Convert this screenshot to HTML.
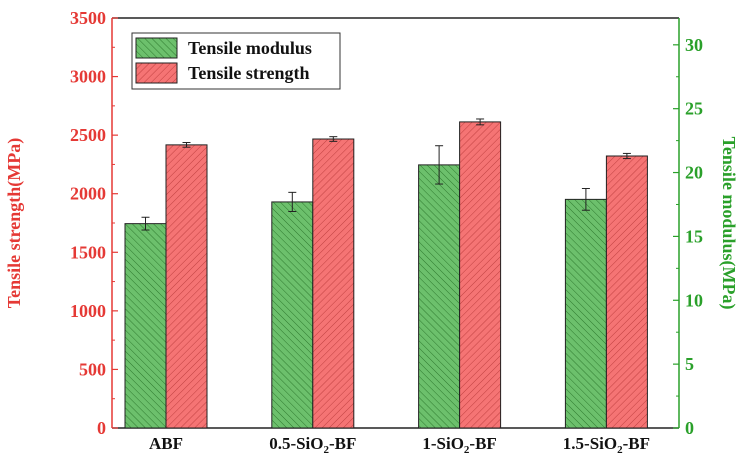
<!DOCTYPE html>
<html><head><meta charset="utf-8"><style>
body{margin:0;background:#fff}
svg{display:block;font-family:"Liberation Serif",serif;font-weight:bold}
</style></head><body>
<svg id="c" width="743" height="462">
<defs>
<pattern id="hg" width="5" height="5" patternUnits="userSpaceOnUse" patternTransform="rotate(-45)"><rect width="5" height="5" fill="#6cc06c"/><line x1="0" y1="0" x2="0" y2="5" stroke="#2f7a2f" stroke-width="1"/></pattern>
<pattern id="hr" width="5" height="5" patternUnits="userSpaceOnUse" patternTransform="rotate(45)"><rect width="5" height="5" fill="#f57474"/><line x1="0" y1="0" x2="0" y2="5" stroke="#c04040" stroke-width="1"/></pattern>
</defs>
</svg>
<script>
const categories=["ABF","0.5-SiO2-BF","1-SiO2-BF","1.5-SiO2-BF"];
const modulus=[16.0,17.7,20.6,17.9];
const modulusErr=[0.5,0.75,1.5,0.85];
const strength=[2417,2467,2613,2322];
const strengthErr=[20,20,25,22];
const leftTicks=[0,500,1000,1500,2000,2500,3000,3500];
const rightTicks=[0,5,10,15,20,25,30];
const svg=document.getElementById('c');
const NS="http://www.w3.org/2000/svg";
const X0=112,X1=679,Y0=428,Y1=18;
const yL=v=>Y0-v/3500*(Y0-Y1);
const yR=v=>Y0-v/32.1*(Y0-Y1);
const xC=i=>166+i*146.8;
function mk(t,a,p){const e=document.createElementNS(NS,t);for(const k in a)e.setAttribute(k,a[k]);(p||svg).appendChild(e);return e;}
let e;
e=mk('line',{x1:X0,y1:Y1,x2:X1,y2:Y1,stroke:'#222','stroke-width':1.5});

e=mk('line',{x1:X0,y1:Y0,x2:X1,y2:Y0,stroke:'#222','stroke-width':1.5});

e=mk('line',{x1:X0,y1:Y1,x2:X0,y2:Y0,stroke:'#e53935','stroke-width':1.5});

e=mk('line',{x1:X1,y1:Y1,x2:X1,y2:Y0,stroke:'#2aa02a','stroke-width':1.5});

leftTicks.forEach(v=>{
 mk('line',{x1:X0,y1:yL(v),x2:X0+6,y2:yL(v),stroke:'#e53935','stroke-width':1.2});
 if(v<3500)mk('line',{x1:X0,y1:yL(v+250),x2:X0+3,y2:yL(v+250),stroke:'#e53935','stroke-width':1});
 e=mk('text',{x:X0-6,y:yL(v)+6,'text-anchor':'end','font-size':18,fill:'#e53935'});e.textContent=v;
 
});
rightTicks.forEach(v=>{
 mk('line',{x1:X1,y1:yR(v),x2:X1-6,y2:yR(v),stroke:'#2aa02a','stroke-width':1.2});
 if(v<30)mk('line',{x1:X1,y1:yR(v+2.5),x2:X1-3,y2:yR(v+2.5),stroke:'#2aa02a','stroke-width':1});
 e=mk('text',{x:X1+6,y:yR(v)+6,'font-size':18,fill:'#2aa02a'});e.textContent=v;
 
});
e=mk('text',{transform:'translate(20,223) rotate(-90)','text-anchor':'middle','font-size':18,fill:'#e53935'});e.textContent='Tensile strength(MPa)';

e=mk('text',{transform:'translate(723,223) rotate(90)','text-anchor':'middle','font-size':18,fill:'#2aa02a'});e.textContent='Tensile modulus(MPa)';

function err(x,y1,y2){mk('line',{x1:x,y1:y1,x2:x,y2:y2,stroke:'#222'});mk('line',{x1:x-4,y1:y1,x2:x+4,y2:y1,stroke:'#222'});mk('line',{x1:x-4,y1:y2,x2:x+4,y2:y2,stroke:'#222'});}
categories.forEach((c,i)=>{
 const cx=xC(i),w=41;
 e=mk('rect',{x:cx-w,y:yR(modulus[i]),width:w,height:Y0-yR(modulus[i]),fill:'url(#hg)',stroke:'#222','stroke-width':1});
 
 e=mk('rect',{x:cx,y:yL(strength[i]),width:w,height:Y0-yL(strength[i]),fill:'url(#hr)',stroke:'#222','stroke-width':1});
 
 err(cx-w/2,yR(modulus[i]+modulusErr[i]),yR(modulus[i]-modulusErr[i]));
 err(cx+w/2,yL(strength[i]+strengthErr[i]),yL(strength[i]-strengthErr[i]));
 e=mk('text',{x:cx,y:449,'text-anchor':'middle','font-size':17,fill:'#111'});
 
 const m=c.match(/^(.*SiO)2(.*)$/);
 if(m){e.appendChild(document.createTextNode(m[1]));const s=mk('tspan',{dy:4,'font-size':11},e);s.textContent='2';const t=mk('tspan',{dy:-4},e);t.textContent=m[2];}
 else e.textContent=c;
});
const lg=mk('g',{});

mk('rect',{x:132,y:33,width:208,height:56,fill:'#fff',stroke:'#333'},lg);
mk('rect',{x:136,y:38,width:41,height:20,fill:'url(#hg)',stroke:'#222'},lg);
mk('rect',{x:136,y:63,width:41,height:20,fill:'url(#hr)',stroke:'#222'},lg);
e=mk('text',{x:188,y:54,'font-size':18,fill:'#111'},lg);e.textContent='Tensile modulus';

e=mk('text',{x:188,y:79,'font-size':18,fill:'#111'},lg);e.textContent='Tensile strength';

</script>
</body></html>
